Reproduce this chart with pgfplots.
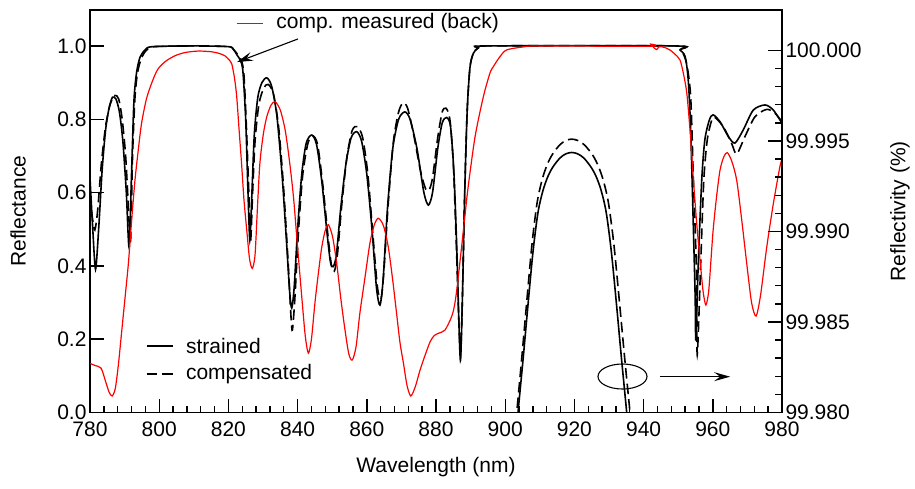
\documentclass[border=0pt]{standalone}
\usepackage{fontspec}
\setmainfont{Liberation Sans}
\usepackage{pgfplots}
\pgfplotsset{compat=1.18}
\usetikzlibrary{arrows.meta}

\definecolor{measred}{RGB}{255,0,0}

\begin{document}
\begin{tikzpicture}
\pgfplotsset{
  every axis/.append style={
    font=\fontsize{21}{25}\selectfont,
    scale only axis, width=692pt, height=402.5pt,
    xmin=780, xmax=980,
    axis line style={line width=1.6pt},
    tick style={line width=1.4pt, black},
    /pgf/number format/assume math mode=true,
  },
}
% left axis: reflectance
\begin{axis}[
  ymin=0, ymax=1.098,
  tick pos=left, tick align=inside,
  xtick={780,800,...,980},
  minor x tick num=4,
  major tick length=14pt, minor tick length=7pt,
  ytick={0,0.2,...,1.0},
  yticklabel style={/pgf/number format/.cd, fixed, fixed zerofill, precision=1},
  xticklabel style={yshift=-6pt},
  xlabel={Wavelength (nm)},
  xlabel style={at={(axis description cs:0.5,-0.1354)}, anchor=center},
  ylabel={Reflectance},
  ylabel style={at={(axis description cs:-0.104,0.5)}, anchor=center},
]
% strained
\addplot[black, line width=1.6pt, smooth, tension=0.45] coordinates {
(780.0,0.64) (780.8,0.50) (781.6,0.39) (782.5,0.50) (783.5,0.66) (784.5,0.77)
(785.5,0.83) (786.5,0.86) (787.5,0.855) (788.5,0.82) (789.5,0.74) (790.5,0.60)
(791.3,0.45) (792.0,0.65) (792.7,0.85) (793.5,0.93) (794.5,0.97) (796.0,0.99)
(798.0,0.998) (810,1.0) (820,0.998) (821.5,0.99) (822.5,0.975) (823.5,0.96)
(824.2,0.93) (825.0,0.80) (825.6,0.62) (826.2,0.47) (826.8,0.60) (827.5,0.76)
(828.5,0.86) (829.7,0.90) (831.1,0.913) (832.5,0.89) (834.0,0.81) (835.5,0.65)
(836.7,0.48) (837.7,0.33) (838.3,0.285) (839.0,0.34) (840.0,0.50) (841.2,0.65)
(842.5,0.735) (844.1,0.757) (845.5,0.73) (847.0,0.63) (848.5,0.49) (849.5,0.41)
(850.3,0.398) (851.2,0.43) (852.5,0.56) (854.0,0.68) (855.5,0.75) (857.1,0.766)
(858.5,0.74) (860.0,0.65) (861.5,0.50) (862.8,0.34) (863.8,0.293) (864.7,0.36)
(866.0,0.56) (867.5,0.72) (869.2,0.80) (871.0,0.82) (872.5,0.80) (874.5,0.72)
(876.5,0.60) (877.8,0.566) (879.0,0.60) (880.5,0.72) (881.8,0.79) (883.1,0.805)
(884.2,0.78) (885.2,0.65) (886.0,0.45) (886.7,0.22) (887.1,0.143) (887.6,0.30)
(888.3,0.60) (889.0,0.82) (889.8,0.94) (890.8,0.98) (892.3,0.995) (895,1.0)
(949,1.0) (950.5,0.989) (952.0,0.971) (952.9,0.907) (953.6,0.771) (954.4,0.498)
(954.9,0.316) (955.1,0.198) (955.8,0.407) (956.8,0.634) (957.7,0.744) (959.0,0.798)
(960.1,0.812) (962.1,0.793) (964.5,0.753) (966.4,0.735) (968.8,0.771) (971.7,0.825)
(975.1,0.839) (977.5,0.825) (980.0,0.789)
};
% compensated
\addplot[black, line width=1.6pt, dash pattern=on 10.5pt off 5pt, smooth, tension=0.45] coordinates {
(780.0,0.59) (780.7,0.53) (781.4,0.498) (782.2,0.55) (783.3,0.68) (784.5,0.78)
(785.8,0.84) (787.2,0.865) (788.3,0.855) (789.3,0.80) (790.3,0.70) (791.1,0.56)
(791.7,0.46) (792.3,0.70) (793.0,0.86) (793.8,0.93) (795.0,0.97) (796.5,0.99)
(798.5,0.998) (810,1.0) (820,0.998) (821.5,0.99) (822.8,0.975) (823.8,0.96)
(824.5,0.92) (825.2,0.78) (825.9,0.60) (826.4,0.465) (827.0,0.60) (827.7,0.74)
(828.8,0.84) (830.2,0.885) (831.5,0.895) (833.0,0.87) (834.5,0.78) (835.9,0.62)
(837.2,0.42) (838.1,0.26) (838.5,0.225) (839.2,0.31) (840.3,0.50) (841.5,0.65)
(843.0,0.735) (844.4,0.755) (845.8,0.73) (847.3,0.62) (848.8,0.48) (849.8,0.40)
(850.6,0.385) (851.5,0.43) (852.8,0.57) (854.3,0.70) (855.8,0.77) (857.3,0.78)
(858.8,0.75) (860.3,0.65) (861.8,0.48) (863.1,0.34) (864.1,0.31) (864.9,0.38)
(866.2,0.57) (867.7,0.74) (869.2,0.82) (870.5,0.845) (871.8,0.83) (873.5,0.76)
(875.5,0.66) (877.0,0.61) (878.0,0.607) (879.0,0.64) (880.5,0.75) (881.8,0.82)
(882.9,0.83) (884.0,0.80) (885.0,0.68) (885.9,0.45) (886.6,0.25) (887.1,0.16)
(887.6,0.30) (888.3,0.60) (889.0,0.82) (889.8,0.94) (890.8,0.98) (892.3,0.995)
(895,1.0) (949,1.0) (950.8,0.99) (952.4,0.953) (953.6,0.862) (954.4,0.634)
(955.2,0.407) (955.5,0.157) (956.5,0.407) (957.4,0.634) (958.4,0.744) (959.7,0.798)
(960.6,0.805) (963.0,0.780) (965.4,0.735) (966.9,0.705) (969.3,0.753) (972.2,0.807)
(975.6,0.827) (978.0,0.816) (980.0,0.793)
};
% comp. measured (back)
\addplot[measred, line width=1.2pt, smooth, tension=0.45] coordinates {
(780.0,0.134) (781.5,0.128) (783.2,0.121) (784.5,0.085) (785.5,0.056) (786.4,0.045)
(787.3,0.065) (788.2,0.13) (789.2,0.225) (790.2,0.32) (791.1,0.407) (792.0,0.52)
(793.0,0.634) (794.0,0.72) (794.9,0.789) (796.3,0.855) (797.8,0.898) (799.5,0.935)
(801.7,0.957) (804.5,0.973) (807.5,0.982) (811.3,0.986) (815.2,0.984) (817.5,0.979)
(819.0,0.973) (820.2,0.962) (821.0,0.950) (821.8,0.91) (822.4,0.862) (823.1,0.77)
(823.8,0.680) (824.5,0.58) (825.3,0.498) (826.1,0.42) (826.9,0.393) (827.7,0.43)
(828.4,0.56) (829.1,0.680) (830.1,0.76) (831.1,0.807) (832.3,0.838) (833.5,0.848)
(835.0,0.825) (836.4,0.771) (837.6,0.69) (838.8,0.589) (840.0,0.45) (841.2,0.316)
(842.2,0.21) (843.1,0.162) (844.0,0.20) (845.0,0.298) (846.0,0.38) (847.0,0.452)
(848.0,0.497) (848.9,0.512) (850.1,0.48) (851.3,0.407) (852.5,0.31) (853.7,0.225)
(854.8,0.16) (855.8,0.143) (856.9,0.18) (858.0,0.271) (859.5,0.37) (860.9,0.462)
(862.1,0.51) (863.3,0.530) (864.8,0.51) (866.2,0.452) (867.5,0.36) (868.6,0.271)
(869.6,0.19) (870.6,0.134) (871.6,0.075) (872.7,0.045) (874.0,0.07) (875.4,0.116)
(876.8,0.155) (878.3,0.193) (879.5,0.21) (880.7,0.216) (882.6,0.225) (884.5,0.261)
(885.3,0.29) (886.0,0.334) (887.4,0.452) (888.4,0.54) (889.3,0.616) (891.3,0.753)
(893.7,0.862) (895.6,0.926) (896.6,0.944) (898.5,0.971) (900.4,0.989) (905,0.997)
(910,1.0) (941.8,0.999) (942.1,1.005) (943.0,0.995) (943.8,0.99) (944.5,0.998)
(946.0,0.996) (947.6,0.989) (949.0,0.978) (950.5,0.962) (951.5,0.925) (952.5,0.87)
(953.5,0.76) (954.4,0.634) (955.4,0.51) (956.4,0.407) (957.2,0.33) (958.0,0.293)
(958.8,0.33) (959.5,0.42) (960.1,0.498) (961.1,0.59) (962.1,0.662) (963.2,0.698)
(964.2,0.709) (965.5,0.685) (966.9,0.634) (968.3,0.53) (969.8,0.407) (971.2,0.30)
(972.5,0.263) (973.8,0.32) (975.6,0.452) (977.5,0.57) (979.4,0.671) (980.0,0.69)
};
% legend
\draw[black, line width=1.5pt] (axis cs:796.4,0.1814) -- (axis cs:803.9,0.1814);
\node[anchor=west, inner sep=0pt] at (axis cs:807.7,0.1814) {strained};
\draw[black, line width=1.5pt, dash pattern=on 10.5pt off 5pt] (axis cs:796.4,0.105) -- (axis cs:803.9,0.105);
\node[anchor=west, inner sep=0pt] at (axis cs:807.7,0.105) {compensated};
\draw[measred, line width=1.4pt] (axis cs:822.4,1.0609) -- (axis cs:829.9,1.0609);
\node[anchor=west, inner sep=0pt] at (axis cs:833.8,1.0627) {comp. measured (back)};
% annotations
\draw[line width=1.1pt, -{Stealth[length=16pt, width=9pt, inset=6pt]}] (axis cs:840.1,1.019) -- (axis cs:822.5,0.956);
\draw[line width=1.1pt] (axis cs:933.9,0.0982) ellipse [x radius=24.5pt, y radius=12.5pt];
\draw[line width=1.1pt, -{Stealth[length=16pt, width=9pt, inset=6pt]}] (axis cs:944.7,0.0977) -- (axis cs:965.0,0.0977);
\end{axis}
% right axis: reflectivity (%)
\begin{axis}[
  axis x line=none, axis y line*=right,
  ymin=99.98, ymax=100.00223,
  ytick pos=right, tick align=inside,
  ytick={99.98,99.985,99.99,99.995,100.0},
  yticklabels={99.980,99.985,99.990,99.995,100.000},
  minor ytick={99.981,99.982,99.983,99.984,99.986,99.987,99.988,99.989,99.991,99.992,99.993,99.994,99.996,99.997,99.998,99.999},
  major tick length=14pt, minor tick length=7pt,
  ylabel={Reflectivity (\%)},
  ylabel style={at={(axis description cs:1.1705,0.5)}, anchor=center},
]
% strained, stop band
\addplot[black, line width=1.6pt, smooth, tension=0.5] coordinates {
(903.45,99.9792) (903.70,99.98000) (905.15,99.98291) (906.59,99.98596) (908.04,99.98889)
(909.48,99.99105) (910.93,99.99227) (912.37,99.99305) (913.82,99.99357) (915.84,99.99406)
(917.57,99.99429) (919.22,99.99436) (920.90,99.99429) (922.69,99.99406) (924.74,99.99357)
(926.24,99.99305) (927.72,99.99227) (929.19,99.99105) (930.67,99.98889) (932.17,99.98596)
(933.64,99.98291) (935.11,99.98000) (935.35,99.9792)
};
% compensated, stop band
\addplot[black, line width=1.6pt, dash pattern=on 10.5pt off 5pt, smooth, tension=0.5] coordinates {
(903.05,99.9794) (903.33,99.98000) (904.81,99.98306) (906.29,99.98626) (907.77,99.98935)
(909.25,99.99162) (910.73,99.99290) (912.20,99.99372) (913.69,99.99427) (915.76,99.99478)
(917.53,99.99502) (919.22,99.99510) (921.01,99.99502) (922.89,99.99478) (925.09,99.99427)
(926.66,99.99372) (928.23,99.99290) (929.80,99.99162) (931.37,99.98935) (932.94,99.98626)
(934.50,99.98306) (936.07,99.98000) (936.35,99.9794)
};
\end{axis}
% overall picture extent
\path (-90pt,-75.5pt) rectangle (825pt,412.5pt);
\end{tikzpicture}
\end{document}
